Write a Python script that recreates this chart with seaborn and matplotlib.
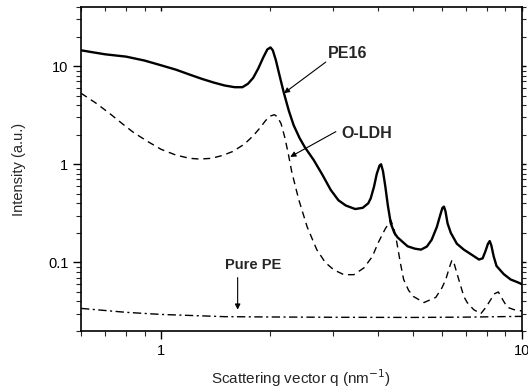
import numpy as np
import pandas as pd
import matplotlib
matplotlib.use('Agg')
import matplotlib.pyplot as plt
from matplotlib.ticker import LogLocator, NullFormatter, FixedLocator, FixedFormatter
import seaborn as sns

# PE16 nanocomposite (solid)
pe16_q = [0.6, 0.65, 0.7, 0.8, 0.9, 1.0, 1.1, 1.2, 1.3, 1.4, 1.5, 1.6, 1.68, 1.74,
          1.8, 1.86, 1.92, 1.97, 2.01, 2.04, 2.08, 2.13, 2.19, 2.26, 2.33, 2.42, 2.5,
          2.65, 2.8, 2.95, 3.1, 3.25, 3.45, 3.62, 3.75, 3.81, 3.89, 3.96, 4.03, 4.07,
          4.12, 4.18, 4.25, 4.33, 4.43, 4.52, 4.82, 5.05, 5.25, 5.45, 5.62, 5.81, 5.93,
          6.02, 6.08, 6.14, 6.22, 6.35, 6.6, 6.9, 7.3, 7.6, 7.78, 7.92, 8.05, 8.14,
          8.22, 8.35, 8.5, 8.9, 9.3, 9.7, 10.0]
pe16_i = [14.5, 13.8, 13.2, 12.5, 11.4, 10.2, 9.2, 8.2, 7.4, 6.8, 6.35, 6.1, 6.1, 6.6,
          7.6, 9.5, 12.3, 14.8, 15.5, 14.5, 11.5, 8.0, 5.3, 3.5, 2.5, 1.85, 1.5,
          1.1, 0.78, 0.55, 0.43, 0.38, 0.35, 0.36, 0.4, 0.45, 0.59, 0.8, 0.97, 1.0,
          0.85, 0.6, 0.38, 0.25, 0.2, 0.18, 0.146, 0.138, 0.135, 0.145, 0.17, 0.23, 0.3,
          0.36, 0.37, 0.33, 0.25, 0.2, 0.155, 0.135, 0.118, 0.107, 0.11, 0.13, 0.155, 0.165,
          0.15, 0.115, 0.092, 0.076, 0.067, 0.063, 0.06]

# O-LDH (dashed)
oldh_q = [0.6, 0.66, 0.72, 0.78, 0.84, 0.92, 1.0, 1.1, 1.2, 1.28, 1.38, 1.48, 1.58,
          1.7, 1.8, 1.88, 1.95, 2.01, 2.06, 2.1, 2.15, 2.2, 2.25, 2.3, 2.36, 2.41,
          2.54, 2.7, 2.85, 3.01, 3.21, 3.42, 3.65, 3.85, 4.0, 4.18, 4.33, 4.42, 4.5,
          4.6, 4.7, 4.85, 5.0, 5.35, 5.77, 6.0, 6.15, 6.3, 6.4, 6.5, 6.62, 6.76, 6.9,
          7.05, 7.35, 7.69, 7.95, 8.2, 8.4, 8.6, 8.8, 9.1, 9.5, 10.0]
oldh_i = [5.3, 4.2, 3.3, 2.6, 2.1, 1.7, 1.42, 1.24, 1.15, 1.13, 1.15, 1.23, 1.35,
          1.6, 1.95, 2.35, 2.8, 3.1, 3.2, 3.05, 2.6, 1.9, 1.3, 0.85, 0.58, 0.43,
          0.23, 0.135, 0.1, 0.084, 0.075, 0.075, 0.088, 0.115, 0.16, 0.22, 0.27, 0.22, 0.16,
          0.1, 0.067, 0.052, 0.045, 0.039, 0.044, 0.055, 0.067, 0.09, 0.106, 0.095, 0.075, 0.058, 0.045,
          0.039, 0.033, 0.03, 0.035, 0.042, 0.048, 0.05, 0.043, 0.035, 0.033, 0.032]

# Pure PE (dash-dot)
pe_q = [0.6, 0.8, 1.0, 1.5, 2.0, 3.0, 5.0, 7.0, 10.0]
pe_i = [0.034, 0.031, 0.0295, 0.028, 0.0278, 0.0276, 0.0275, 0.0277, 0.0282]

sns.set_style('ticks')
plt.rcParams['font.family'] = ['Liberation Sans', 'DejaVu Sans']

fig = plt.figure(figsize=(5.28, 3.92), dpi=100)
ax = fig.add_axes([0.1534, 0.1556, 0.8352, 0.8264])

sns.lineplot(x=pe16_q, y=pe16_i, ax=ax, color='black', linewidth=1.7, estimator=None, sort=False)
sns.lineplot(x=oldh_q, y=oldh_i, ax=ax, color='black', linewidth=1.0, estimator=None, sort=False)
ax.lines[-1].set_dashes([5, 3.5])
sns.lineplot(x=pe_q, y=pe_i, ax=ax, color='black', linewidth=1.0, estimator=None, sort=False)
ax.lines[-1].set_dashes([6, 2.5, 1.5, 2.5])

ax.set_xscale('log')
ax.set_yscale('log')
ax.set_xlim(0.6, 10)
ax.set_ylim(0.02, 40)

ax.xaxis.set_major_locator(FixedLocator([1, 10]))
ax.xaxis.set_major_formatter(FixedFormatter(['1', '10']))
ax.xaxis.set_minor_locator(LogLocator(base=10, subs=np.arange(2, 10)))
ax.xaxis.set_minor_formatter(NullFormatter())
ax.yaxis.set_major_locator(FixedLocator([0.1, 1, 10]))
ax.yaxis.set_major_formatter(FixedFormatter(['0.1', '1', '10']))
ax.yaxis.set_minor_locator(LogLocator(base=10, subs=np.arange(2, 10)))
ax.yaxis.set_minor_formatter(NullFormatter())

for s in ax.spines.values():
    s.set_linewidth(1.2)
    s.set_color('black')
ax.tick_params(which='major', direction='out', length=6, width=1.0, labelsize=10.5,
               colors='black', pad=3)
ax.tick_params(which='minor', direction='out', length=3.5, width=0.8)
ax.tick_params(which='both', top=True, right=True)
# ticks on top and right point inward
for t in ax.xaxis.get_ticklines(minor=False)[1::2] + ax.xaxis.get_ticklines(minor=True)[1::2]:
    t.set_marker(3)
    t.set_markersize(3)
for t in ax.yaxis.get_ticklines(minor=False)[1::2] + ax.yaxis.get_ticklines(minor=True)[1::2]:
    t.set_marker(1)
    t.set_markersize(3)

ax.set_xlabel('Scattering vector q (nm$^{-1}$)', fontsize=11, labelpad=7)
ax.set_ylabel('Intensity (a.u.)', fontsize=10.5, labelpad=16)

arrow = dict(arrowstyle='-|>', color='black', lw=0.8, mutation_scale=8,
             shrinkA=0, shrinkB=0)
ax.text(2.9, 13.5, 'PE16', fontsize=11.5, fontweight='bold', va='center', ha='left')
ax.annotate('', xy=(2.19, 5.3), xytext=(2.86, 11.0), arrowprops=arrow)
ax.text(3.15, 2.08, 'O-LDH', fontsize=11.5, fontweight='bold', va='center', ha='left')
ax.annotate('', xy=(2.28, 1.19), xytext=(3.05, 2.15), arrowprops=arrow)
ax.text(1.5, 0.095, 'Pure PE', fontsize=10.5, fontweight='bold', va='center', ha='left')
ax.annotate('', xy=(1.63, 0.033), xytext=(1.63, 0.070), arrowprops=arrow)

fig.savefig('out.png', dpi=100)
